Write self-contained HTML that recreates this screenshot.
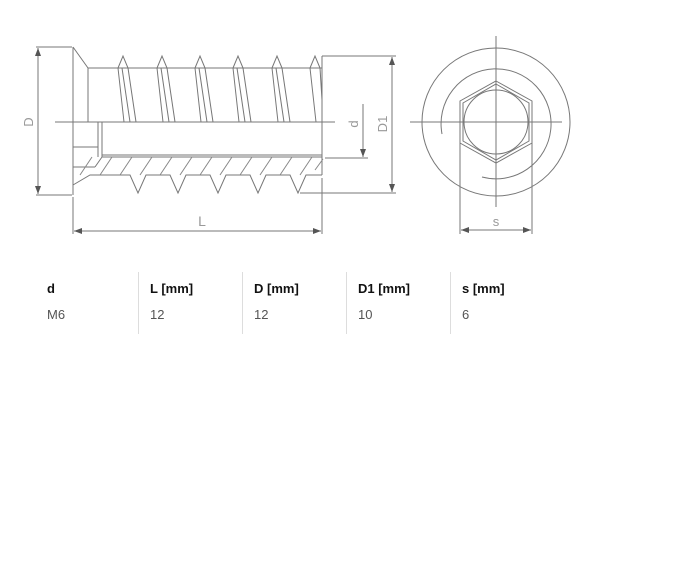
<!DOCTYPE html>
<html><head><style>
body{margin:0;background:#fff;width:678px;height:566px;overflow:hidden;position:relative;font-family:"Liberation Sans",sans-serif}
.t{position:absolute;font-size:13px}
.h{font-weight:bold;color:#111;top:281px}
.v{color:#555;top:307px}
.dv{position:absolute;top:272px;width:1px;height:62px;background:#ddd}
</style></head><body>
<svg width="678" height="260" style="position:absolute;left:0;top:0" fill="none" stroke="#777" stroke-width="1">
<defs><marker id="a" markerWidth="8" markerHeight="6" refX="8" refY="3" orient="auto-start-reverse"><path d="M0,0L8,3L0,6z" fill="#555" stroke="none"/></marker></defs>
<!-- D dim -->
<line x1="36" y1="47" x2="72" y2="47"/><line x1="36" y1="195" x2="72" y2="195"/>
<line x1="38" y1="48" x2="38" y2="194" marker-start="url(#a)" marker-end="url(#a)"/>
<text x="33" y="122" font-size="13" fill="#999" stroke="none" font-family="Liberation Sans" transform="rotate(-90 33 122)" text-anchor="middle">D</text>
<!-- flange & body -->
<line x1="73" y1="47" x2="73" y2="195"/>
<line x1="73" y1="47" x2="88" y2="68"/>
<line x1="88" y1="68" x2="322" y2="68"/>
<line x1="88" y1="68" x2="88" y2="122"/>
<line x1="322" y1="56" x2="322" y2="175"/>
<line x1="55" y1="122" x2="335" y2="122"/>
<line x1="73" y1="147" x2="98" y2="147"/>
<line x1="98" y1="122" x2="98" y2="157"/><line x1="102" y1="122" x2="102" y2="157"/>
<line x1="102" y1="157" x2="322" y2="157"/><line x1="102" y1="155" x2="322" y2="155"/>
<line x1="73" y1="167" x2="95" y2="167"/>
<line x1="95" y1="167" x2="102" y2="157"/>
<path d="M73,185 L90,175 L130,175 L138,193 L146,175 L170,175 L178,193 L186,175 L210,175 L218,193 L226,175 L250,175 L258,193 L266,175 L290,175 L298,193 L306,175 L322,175"/>
<g stroke="#888">
<path d="M80,175l12,-18M100,175l12,-18M120,175l12,-18M140,175l12,-18M160,175l12,-18M180,175l12,-18M200,175l12,-18M220,175l12,-18M240,175l12,-18M260,175l12,-18M280,175l12,-18M300,175l12,-18M315,170l8,-11"/>
</g>
<!-- top threads -->
<g>
<path d="M118,68 L123,56 L128,68 M118,68 L124,122 M128,68 L136,122 M122,68 L130,122"/>
<path d="M157,68 L162,56 L167,68 M157,68 L163,122 M167,68 L175,122 M161,68 L169,122"/>
<path d="M195,68 L200,56 L205,68 M195,68 L201,122 M205,68 L213,122 M199,68 L207,122"/>
<path d="M233,68 L238,56 L243,68 M233,68 L239,122 M243,68 L251,122 M237,68 L245,122"/>
<path d="M272,68 L277,56 L282,68 M272,68 L278,122 M282,68 L290,122 M276,68 L284,122"/>
<path d="M310,68 L315,56 L320,68 M310,68 L316,122 M320,68 L322,100"/>
</g>
<!-- L dim -->
<line x1="73" y1="197" x2="73" y2="234"/><line x1="322" y1="178" x2="322" y2="234"/>
<line x1="74" y1="231" x2="321" y2="231" marker-start="url(#a)" marker-end="url(#a)"/>
<text x="202" y="226" font-size="14" fill="#999" stroke="none" font-family="Liberation Sans" text-anchor="middle">L</text>
<!-- d dim -->
<line x1="325" y1="158" x2="368" y2="158"/>
<line x1="363" y1="104" x2="363" y2="157" marker-end="url(#a)"/>
<text x="358" y="124" font-size="13" fill="#999" stroke="none" font-family="Liberation Sans" transform="rotate(-90 358 124)" text-anchor="middle">d</text>
<!-- D1 dim -->
<line x1="322" y1="56" x2="396" y2="56"/><line x1="300" y1="193" x2="396" y2="193"/>
<line x1="392" y1="57" x2="392" y2="192" marker-start="url(#a)" marker-end="url(#a)"/>
<text x="387" y="124" font-size="13" fill="#999" stroke="none" font-family="Liberation Sans" transform="rotate(-90 387 124)" text-anchor="middle">D1</text>
<!-- right view -->
<circle cx="496" cy="122" r="74"/>
<path d="M442,134 A55,55 0 1 1 482,177"/>
<line x1="496" y1="36" x2="496" y2="207"/>
<line x1="410" y1="122" x2="562" y2="122"/>
<polygon points="496,81 532,101 532,143 496,163 460,143 460,101"/>
<polygon points="496,84 529,103 529,141 496,160 463,141 463,103"/>
<circle cx="496" cy="122" r="32"/>
<line x1="460" y1="143" x2="460" y2="234"/><line x1="532" y1="143" x2="532" y2="234"/>
<line x1="461" y1="230" x2="531" y2="230" marker-start="url(#a)" marker-end="url(#a)"/>
<text x="496" y="226" font-size="13" fill="#999" stroke="none" font-family="Liberation Sans" text-anchor="middle">s</text>
</svg>
<div class="dv" style="left:138px"></div><div class="dv" style="left:242px"></div><div class="dv" style="left:346px"></div><div class="dv" style="left:450px"></div>
<div class="t h" style="left:47px">d</div><div class="t v" style="left:47px">M6</div>
<div class="t h" style="left:150px">L [mm]</div><div class="t v" style="left:150px">12</div>
<div class="t h" style="left:254px">D [mm]</div><div class="t v" style="left:254px">12</div>
<div class="t h" style="left:358px">D1 [mm]</div><div class="t v" style="left:358px">10</div>
<div class="t h" style="left:462px">s [mm]</div><div class="t v" style="left:462px">6</div>
</body></html>
